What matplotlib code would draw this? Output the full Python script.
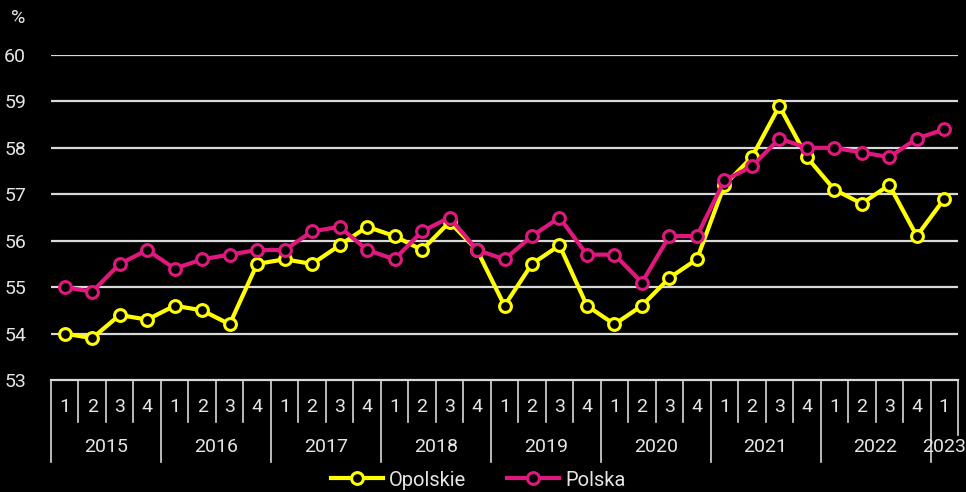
import matplotlib.pyplot as plt

# quarterly data 2015Q1 - 2023Q1
years = ['2015', '2016', '2017', '2018', '2019', '2020', '2021', '2022', '2023']
quarters = ['1', '2', '3', '4'] * 8 + ['1']

opolskie = [54.0, 53.9, 54.4, 54.3, 54.6, 54.5, 54.2, 55.5,
            55.6, 55.5, 55.9, 56.3, 56.1, 55.8, 56.4, 55.8,
            54.6, 55.5, 55.9, 54.6, 54.2, 54.6, 55.2, 55.6,
            57.2, 57.8, 58.9, 57.8, 57.1, 56.8, 57.2, 56.1,
            56.9]
polska = [55.0, 54.9, 55.5, 55.8, 55.4, 55.6, 55.7, 55.8,
          55.8, 56.2, 56.3, 55.8, 55.6, 56.2, 56.5, 55.8,
          55.6, 56.1, 56.5, 55.7, 55.7, 55.1, 56.1, 56.1,
          57.3, 57.6, 58.2, 58.0, 58.0, 57.9, 57.8, 58.2,
          58.4]

plt.rcParams['font.family'] = ['Roboto', 'DejaVu Sans']
txt = '#e6e6e6'
yellow = '#ffff00'
pink = '#e0187e'
fs = 14

fig = plt.figure(figsize=(9.66, 4.92), dpi=100, facecolor='black')
ax = fig.add_axes([51 / 966, 112 / 492, 907 / 966, 325 / 492])
ax.set_facecolor('black')

x = list(range(len(opolskie)))
for y in range(54, 61):
    ax.axhline(y, color='#d9d9d9', lw=1.6, zorder=1)

ax.plot(x, opolskie, color=yellow, lw=3, marker='o', ms=8.5, mfc='black',
        mec=yellow, mew=2.2, label='Opolskie', zorder=3)
ax.plot(x, polska, color=pink, lw=3, marker='o', ms=8.5, mfc='black',
        mec=pink, mew=2.2, label='Polska', zorder=3)

ax.set_xlim(-0.5, len(x) - 0.5)
ax.set_ylim(53, 60)
ax.set_yticks(range(53, 61))
ax.tick_params(axis='y', length=0, pad=18, labelsize=fs, labelcolor=txt)
ax.set_xticks([])
for s in ax.spines.values():
    s.set_visible(False)

# category axis with two levels
tr = ax.get_xaxis_transform()
ax.plot([-0.5, len(x) - 0.5], [0, 0], color='#d9d9d9', lw=1.6,
        transform=tr, clip_on=False)
for i, q in enumerate(quarters):
    ax.text(i, -0.083, q, transform=tr, ha='center', va='center',
            fontsize=fs, color=txt)
for i in range(len(x) + 1):
    if i % 4 == 0 and i < len(x):
        bottom = -0.252
    else:
        bottom = -0.17 if i >= 32 else -0.129
    ax.plot([i - 0.5, i - 0.5], [0, bottom], color='#d9d9d9', lw=1.2,
            transform=tr, clip_on=False)
for k, yr in enumerate(years):
    c = k * 4 + 1.5 if k < 8 else 32
    ax.text(c, -0.206, yr, transform=tr, ha='center', va='center',
            fontsize=fs, color=txt)

fig.text(18 / 966, 1 - 18 / 492, '%', ha='center', va='center',
         fontsize=fs, color=txt)

fig.legend(loc='center', bbox_to_anchor=(478 / 966, 1 - 480 / 492), ncol=2,
           frameon=False, fontsize=14.5, labelcolor=txt, handlelength=2.6,
           columnspacing=2.0, handletextpad=0.3, numpoints=1,
           borderaxespad=0, borderpad=0.2)

fig.savefig('out.png', dpi=100, facecolor='black')
